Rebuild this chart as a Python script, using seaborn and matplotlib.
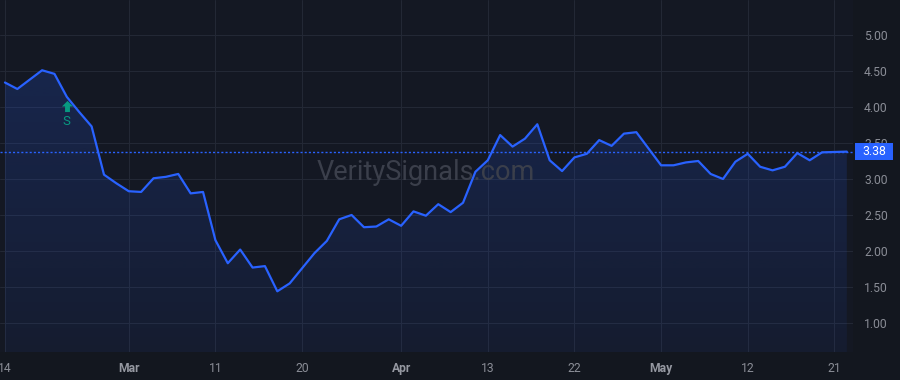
import numpy as np
import matplotlib
matplotlib.use("Agg")
import matplotlib.pyplot as plt
import matplotlib.transforms as mtransforms
from matplotlib.path import Path
from matplotlib.patches import Rectangle
import seaborn as sns

# ---- data ----
values = [4.34, 4.25, 4.38, 4.51, 4.46, 4.14, 3.93, 3.73, 3.06, 2.94,
          2.83, 2.82, 3.01, 3.03, 3.07, 2.80, 2.82, 2.15, 1.83, 2.02,
          1.77, 1.79, 1.44, 1.55, 1.76, 1.97, 2.14, 2.44, 2.50, 2.33,
          2.34, 2.44, 2.35, 2.55, 2.49, 2.65, 2.54, 2.67, 3.10, 3.26,
          3.61, 3.45, 3.56, 3.76, 3.26, 3.11, 3.30, 3.35, 3.54, 3.46,
          3.63, 3.65, 3.42, 3.19, 3.19, 3.23, 3.25, 3.07, 3.00, 3.24,
          3.35, 3.17, 3.12, 3.17, 3.36, 3.26, 3.37, 3.375, 3.38]
tick_idx = [0, 10, 17, 24, 32, 39, 46, 53, 60, 67]
tick_labels = ["14", "Mar", "11", "20", "Apr", "13", "22", "May", "12", "21"]
month_labels = {"Mar", "Apr", "May"}
y_ticks = [1.0, 1.5, 2.0, 2.5, 3.0, 3.5, 4.0, 4.5, 5.0]
last_price = 3.38
signal_idx = 5
signal_label = "S"
watermark = "VeritySignals.com"

# ---- style ----
BG = "#141823"
FIG_BG = "#13171f"
GRID = "#232835"
LINE = "#2962ff"
TXT = "#8a8d96"
GREEN = "#089981"

sns.set_theme(style="dark")
plt.rcParams["font.family"] = ["Roboto", "DejaVu Sans"]

fig = plt.figure(figsize=(9, 3.8), dpi=100, facecolor=FIG_BG)
ax = fig.add_axes([0, 28 / 380, 853 / 900, 352 / 380])
ax.set_facecolor(BG)

x = np.arange(len(values))
y = np.array(values)

ymin, ymax = 0.597, 5.486
xmin, xmax = -0.4, 68.5

# gradient fill under the line
poly = ax.fill_between(x, y, ymin, color="none", lw=0)
grad = np.linspace(0.06, 0.22, 256).reshape(-1, 1)
rgba = np.zeros((256, 1, 4))
rgba[..., 0] = 41 / 255
rgba[..., 1] = 98 / 255
rgba[..., 2] = 1.0
rgba[..., 3] = grad
im = ax.imshow(rgba, extent=[xmin, xmax, ymin, ymax], origin="lower",
               aspect="auto", zorder=1, interpolation="bilinear")
clip = poly.get_paths()[0]
im.set_clip_path(clip, transform=ax.transData)

sns.lineplot(x=x, y=y, ax=ax, color=LINE, lw=1.6, zorder=3)

# last price dotted line
ax.axhline(last_price, color=LINE, lw=1.0, ls=(0, (1.5, 1.5)), zorder=2)

ax.set_xlim(xmin, xmax)
ax.set_ylim(ymin, ymax)

# grid
ax.set_xticks(tick_idx)
ax.set_yticks(y_ticks)
ax.grid(True, color=GRID, lw=0.75)
ax.set_axisbelow(True)
for s in ax.spines.values():
    s.set_visible(False)

ax.yaxis.tick_right()
ax.set_yticklabels([f"{v:.2f}" for v in y_ticks])
ax.tick_params(axis="y", length=0, pad=8, labelsize=8.7, labelcolor=TXT)
ax.set_xticklabels(tick_labels)
ax.tick_params(axis="x", length=0, pad=7, labelsize=8.7, labelcolor=TXT)
for lab in ax.get_xticklabels():
    if lab.get_text() in month_labels:
        lab.set_fontweight("bold")
        lab.set_color("#9598a1")
ax.set_xlabel("")
ax.set_ylabel("")

# signal marker
arrow = Path([(-0.5, 0.0), (0.0, 0.5), (0.5, 0.0), (0.22, 0.0), (0.22, -0.5),
              (-0.22, -0.5), (-0.22, 0.0), (-0.5, 0.0)],
             [Path.MOVETO] + [Path.LINETO] * 6 + [Path.CLOSEPOLY])
trans_arrow = ax.transData + mtransforms.ScaledTranslation(0, -9.5 / 100, fig.dpi_scale_trans)
ax.plot([signal_idx], [values[signal_idx]], marker=arrow, ms=8, color=GREEN,
        mec="none", transform=trans_arrow, zorder=4)
ax.annotate(signal_label, (signal_idx, values[signal_idx]), xytext=(0, -25 * 0.72),
            textcoords="offset points", ha="center", va="center",
            color=GREEN, fontsize=9.5, zorder=4)

# watermark
fig.text(426 / 900, 1 - 172 / 380, watermark, ha="center", va="center",
         fontsize=19.5, color="#3b3f4b", zorder=5)

# last price label
bt = mtransforms.blended_transform_factory(fig.transFigure, ax.transData)
h = 17 * (ymax - ymin) / 352
fig.add_artist(Rectangle((855 / 900, last_price - h / 2), 38 / 900, h,
                         transform=bt, fc=LINE, ec="none", zorder=5))
fig.text(874 / 900, last_price, f"{last_price:.2f}", transform=bt, ha="center",
         va="center", color="white", fontsize=8.8, zorder=6)

fig.savefig("out.png", dpi=100, facecolor=FIG_BG)
